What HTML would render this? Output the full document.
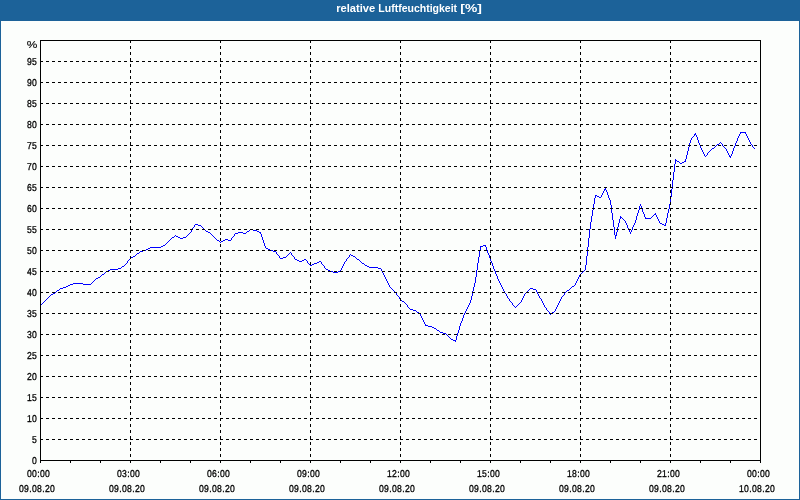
<!DOCTYPE html>
<html lang="de"><head><meta charset="utf-8">
<title>relative Luftfeuchtigkeit [%]</title>
<style>
html,body{margin:0;padding:0;background:#1c6299;overflow:hidden}
svg{display:block}
.ax{font-family:"Liberation Sans",Arial,sans-serif;font-size:10px;fill:#000;text-anchor:middle;text-rendering:geometricPrecision;stroke:#000;stroke-width:0.3px}
.ti{font-family:"Liberation Sans",Arial,sans-serif;font-size:10.5px;font-weight:bold;fill:#fff}
.g{stroke:#000;stroke-width:1;stroke-dasharray:3 3;fill:none}
.b{stroke:#000;stroke-width:1;fill:none}
</style></head><body>
<svg width="800" height="500" viewBox="0 0 800 500">
<rect x="0" y="0" width="800" height="500" fill="#1c6299"/>
<rect x="1" y="21" width="798" height="478" fill="#fcfefc"/>
<text class="ti" x="336.2" y="12" textLength="39" lengthAdjust="spacingAndGlyphs">relative</text>
<text class="ti" x="378.3" y="12" textLength="78.8" lengthAdjust="spacingAndGlyphs">Luftfeuchtigkeit</text>
<text class="ti" x="460.3" y="12" textLength="21.6" lengthAdjust="spacingAndGlyphs">[%]</text>
<g shape-rendering="crispEdges">
<path fill="#00f" d="M40 305h1v1h-1zM41 304h1v1h-1zM42 303h1v1h-1zM43 302h1v1h-1zM44 301h1v1h-1zM45 300h1v1h-1zM46 299h1v1h-1zM47 298h1v1h-1zM48 297h1v1h-1zM49 296h1v1h-1zM50 295h1v1h-1zM51 294h2v1h-2zM53 293h2v1h-2zM55 292h1v1h-1zM56 291h1v1h-1zM57 290h2v1h-2zM59 289h1v1h-1zM60 288h3v1h-3zM63 287h3v1h-3zM66 286h2v1h-2zM68 285h2v1h-2zM70 284h3v1h-3zM73 283h10v1h-10zM83 284h8v1h-8zM91 283h1v1h-1zM92 282h1v1h-1zM93 281h1v1h-1zM94 280h1v1h-1zM95 279h1v1h-1zM96 278h2v1h-2zM98 277h2v1h-2zM100 276h1v1h-1zM101 275h1v1h-1zM102 274h2v1h-2zM104 273h1v1h-1zM105 272h1v1h-1zM106 271h2v1h-2zM108 270h2v1h-2zM110 269h8v1h-8zM118 268h3v1h-3zM121 267h1v1h-1zM122 266h2v1h-2zM124 265h1v1h-1zM125 264h1v1h-1zM126 263h1v1h-1zM127 261h1v2h-1zM128 260h1v1h-1zM129 259h1v1h-1zM130 258h1v1h-1zM131 257h2v1h-2zM133 256h2v1h-2zM135 255h1v1h-1zM136 254h1v1h-1zM137 253h2v1h-2zM139 252h1v1h-1zM140 251h3v1h-3zM143 250h3v1h-3zM146 249h2v1h-2zM148 248h2v1h-2zM150 247h11v1h-11zM161 246h2v1h-2zM163 245h2v1h-2zM165 244h1v1h-1zM166 243h1v1h-1zM167 242h1v1h-1zM168 241h1v1h-1zM169 240h1v1h-1zM170 239h1v1h-1zM171 238h1v1h-1zM172 237h2v1h-2zM174 236h1v1h-1zM175 235h1v1h-1zM176 236h2v1h-2zM178 237h2v1h-2zM180 238h3v1h-3zM183 237h3v1h-3zM186 236h1v1h-1zM187 235h1v1h-1zM188 234h1v1h-1zM189 233h1v1h-1zM190 232h1v1h-1zM191 230h1v2h-1zM192 228h1v2h-1zM193 227h1v1h-1zM194 225h1v2h-1zM195 224h3v1h-3zM198 225h3v1h-3zM201 226h1v1h-1zM202 227h1v1h-1zM203 228h1v1h-1zM204 229h1v1h-1zM205 230h1v1h-1zM206 231h2v1h-2zM208 232h2v1h-2zM210 233h1v1h-1zM211 234h1v1h-1zM212 235h1v1h-1zM213 236h1v1h-1zM214 237h1v1h-1zM215 238h1v1h-1zM216 239h1v1h-1zM217 240h2v1h-2zM219 241h1v1h-1zM220 242h1v1h-1zM221 241h2v1h-2zM223 240h2v1h-2zM225 239h3v1h-3zM228 240h3v1h-3zM231 238h1v2h-1zM232 237h1v1h-1zM233 236h1v1h-1zM234 234h1v2h-1zM235 233h3v1h-3zM238 232h5v1h-5zM243 233h3v1h-3zM246 232h1v1h-1zM247 231h2v1h-2zM249 230h1v1h-1zM250 229h3v1h-3zM253 230h4v1h-4zM257 231h2v1h-2zM259 232h1v1h-1zM260 232h1v2h-1zM261 234h1v3h-1zM262 237h1v3h-1zM263 240h1v3h-1zM264 243h1v3h-1zM265 246h1v2h-1zM266 248h2v1h-2zM268 249h2v1h-2zM270 250h3v1h-3zM273 251h3v1h-3zM276 252h1v2h-1zM277 254h1v1h-1zM278 255h1v1h-1zM279 256h1v2h-1zM280 258h3v1h-3zM283 257h3v1h-3zM286 256h1v1h-1zM287 255h1v1h-1zM288 254h1v1h-1zM289 253h1v1h-1zM290 252h1v1h-1zM291 253h1v2h-1zM292 255h1v1h-1zM293 256h1v1h-1zM294 257h1v2h-1zM295 259h2v1h-2zM297 260h2v1h-2zM299 261h3v1h-3zM302 260h2v1h-2zM304 259h2v1h-2zM306 260h1v1h-1zM307 261h1v2h-1zM308 263h1v1h-1zM309 264h1v1h-1zM310 265h2v1h-2zM312 264h2v1h-2zM314 263h3v1h-3zM317 262h2v1h-2zM319 261h2v1h-2zM321 262h1v2h-1zM322 264h1v1h-1zM323 265h1v1h-1zM324 266h1v2h-1zM325 268h1v1h-1zM326 269h2v1h-2zM328 270h2v1h-2zM330 271h3v1h-3zM333 272h5v1h-5zM338 271h2v1h-2zM340 270h1v2h-1zM341 268h1v2h-1zM342 266h1v2h-1zM343 264h1v2h-1zM344 262h1v2h-1zM345 261h1v1h-1zM346 259h1v2h-1zM347 258h1v1h-1zM348 257h1v1h-1zM349 255h1v2h-1zM350 254h1v1h-1zM351 255h2v1h-2zM353 256h2v1h-2zM355 257h1v1h-1zM356 258h1v1h-1zM357 259h2v1h-2zM359 260h1v1h-1zM360 261h1v1h-1zM361 262h1v1h-1zM362 263h2v1h-2zM364 264h1v1h-1zM365 265h2v1h-2zM367 266h2v1h-2zM369 267h9v1h-9zM378 268h3v1h-3zM381 269h1v2h-1zM382 271h1v2h-1zM383 273h1v2h-1zM384 275h1v2h-1zM385 277h1v2h-1zM386 279h1v2h-1zM387 281h1v2h-1zM388 283h1v2h-1zM389 285h1v2h-1zM390 287h1v1h-1zM391 288h1v1h-1zM392 289h1v1h-1zM393 290h1v1h-1zM394 291h1v1h-1zM395 292h1v1h-1zM396 293h1v2h-1zM397 295h1v1h-1zM398 296h1v1h-1zM399 297h1v2h-1zM400 299h1v1h-1zM401 300h1v1h-1zM402 301h2v1h-2zM404 302h1v1h-1zM405 303h1v1h-1zM406 304h1v1h-1zM407 305h1v2h-1zM408 307h1v1h-1zM409 308h1v1h-1zM410 309h3v1h-3zM413 310h3v1h-3zM416 311h1v1h-1zM417 312h2v1h-2zM419 313h1v1h-1zM420 314h1v2h-1zM421 316h1v2h-1zM422 318h1v2h-1zM423 320h1v2h-1zM424 322h1v2h-1zM425 324h1v2h-1zM426 325h2v1h-2zM428 326h4v1h-4zM432 327h2v1h-2zM434 328h2v1h-2zM436 329h1v1h-1zM437 330h2v1h-2zM439 331h1v1h-1zM440 332h3v1h-3zM443 333h3v1h-3zM446 334h1v1h-1zM447 335h1v1h-1zM448 336h1v1h-1zM449 337h1v1h-1zM450 338h1v1h-1zM451 339h2v1h-2zM453 340h2v1h-2zM455 340h1v2h-1zM456 336h1v4h-1zM457 333h1v3h-1zM458 330h1v3h-1zM459 326h1v4h-1zM460 323h1v3h-1zM461 321h1v2h-1zM462 318h1v3h-1zM463 315h1v3h-1zM464 313h1v2h-1zM465 311h1v2h-1zM466 309h1v2h-1zM467 307h1v2h-1zM468 305h1v2h-1zM469 303h1v2h-1zM470 300h1v3h-1zM471 296h1v4h-1zM472 291h1v5h-1zM473 287h1v4h-1zM474 283h1v4h-1zM475 277h1v6h-1zM476 270h1v7h-1zM477 263h1v7h-1zM478 257h1v6h-1zM479 250h1v7h-1zM480 246h1v4h-1zM481 246h2v1h-2zM483 245h2v1h-2zM485 245h1v2h-1zM486 247h1v3h-1zM487 250h1v3h-1zM488 253h1v2h-1zM489 255h1v3h-1zM490 258h1v3h-1zM491 261h1v2h-1zM492 263h1v3h-1zM493 266h1v3h-1zM494 269h1v2h-1zM495 271h1v3h-1zM496 274h1v2h-1zM497 276h1v3h-1zM498 279h1v2h-1zM499 281h1v2h-1zM500 283h1v2h-1zM501 285h1v2h-1zM502 287h1v2h-1zM503 289h1v2h-1zM504 291h1v2h-1zM505 293h1v1h-1zM506 294h1v2h-1zM507 296h1v2h-1zM508 298h1v1h-1zM509 299h1v2h-1zM510 301h1v1h-1zM511 302h1v1h-1zM512 303h1v2h-1zM513 305h1v1h-1zM514 306h1v1h-1zM515 307h1v1h-1zM516 306h1v1h-1zM517 305h1v1h-1zM518 304h1v1h-1zM519 303h1v1h-1zM520 302h1v1h-1zM521 300h1v2h-1zM522 298h1v2h-1zM523 296h1v2h-1zM524 294h1v2h-1zM525 293h1v1h-1zM526 292h1v1h-1zM527 291h1v1h-1zM528 290h1v1h-1zM529 289h1v1h-1zM530 288h3v1h-3zM533 289h3v1h-3zM536 290h1v2h-1zM537 292h1v2h-1zM538 294h1v2h-1zM539 296h1v2h-1zM540 298h1v1h-1zM541 299h1v2h-1zM542 301h1v2h-1zM543 303h1v2h-1zM544 305h1v2h-1zM545 307h1v1h-1zM546 308h1v2h-1zM547 310h1v1h-1zM548 311h1v1h-1zM549 312h1v2h-1zM550 314h1v1h-1zM551 313h1v1h-1zM552 312h2v1h-2zM554 311h1v1h-1zM555 309h1v2h-1zM556 307h1v2h-1zM557 305h1v2h-1zM558 303h1v2h-1zM559 301h1v2h-1zM560 299h1v2h-1zM561 297h1v2h-1zM562 296h1v1h-1zM563 295h1v1h-1zM564 293h1v2h-1zM565 292h1v1h-1zM566 291h1v1h-1zM567 290h2v1h-2zM569 289h1v1h-1zM570 288h1v1h-1zM571 287h1v1h-1zM572 286h2v1h-2zM574 285h1v1h-1zM575 283h1v2h-1zM576 281h1v2h-1zM577 279h1v2h-1zM578 277h1v2h-1zM579 275h1v2h-1zM580 274h1v1h-1zM581 273h1v1h-1zM582 272h1v1h-1zM583 271h1v1h-1zM584 270h1v1h-1zM585 265h1v5h-1zM586 256h1v9h-1zM587 247h1v9h-1zM588 238h1v9h-1zM589 229h1v9h-1zM590 222h1v7h-1zM591 216h1v6h-1zM592 210h1v6h-1zM593 204h1v6h-1zM594 198h1v6h-1zM595 195h1v3h-1zM596 195h1v1h-1zM597 196h2v1h-2zM599 197h2v1h-2zM601 195h1v2h-1zM602 193h1v2h-1zM603 191h1v2h-1zM604 189h1v2h-1zM605 188h1v2h-1zM606 190h1v2h-1zM607 192h1v3h-1zM608 195h1v3h-1zM609 198h1v2h-1zM610 200h1v5h-1zM611 205h1v8h-1zM612 213h1v7h-1zM613 220h1v7h-1zM614 227h1v8h-1zM615 235h1v4h-1zM616 232h1v4h-1zM617 227h1v5h-1zM618 223h1v4h-1zM619 219h1v4h-1zM620 216h1v3h-1zM621 217h1v1h-1zM622 218h1v1h-1zM623 219h1v1h-1zM624 220h1v1h-1zM625 221h1v2h-1zM626 223h1v2h-1zM627 225h1v3h-1zM628 228h1v2h-1zM629 230h1v2h-1zM630 232h1v2h-1zM631 230h1v2h-1zM632 227h1v3h-1zM633 225h1v2h-1zM634 223h1v2h-1zM635 220h1v3h-1zM636 216h1v4h-1zM637 213h1v3h-1zM638 210h1v3h-1zM639 206h1v4h-1zM640 204h1v2h-1zM641 206h1v3h-1zM642 209h1v3h-1zM643 212h1v2h-1zM644 214h1v3h-1zM645 217h1v2h-1zM646 218h5v1h-5zM651 217h1v1h-1zM652 216h1v1h-1zM653 215h1v1h-1zM654 214h1v1h-1zM655 213h1v2h-1zM656 215h1v2h-1zM657 217h1v2h-1zM658 219h1v2h-1zM659 221h1v2h-1zM660 223h2v1h-2zM662 224h2v1h-2zM664 225h1v1h-1zM665 223h1v3h-1zM666 218h1v5h-1zM667 213h1v5h-1zM668 209h1v4h-1zM669 204h1v5h-1zM670 197h1v7h-1zM671 189h1v8h-1zM672 180h1v9h-1zM673 172h1v8h-1zM674 164h1v8h-1zM675 159h1v5h-1zM676 160h1v1h-1zM677 161h2v1h-2zM679 162h1v1h-1zM680 163h2v1h-2zM682 162h2v1h-2zM684 161h1v1h-1zM685 159h1v3h-1zM686 155h1v4h-1zM687 151h1v4h-1zM688 147h1v4h-1zM689 143h1v4h-1zM690 140h1v3h-1zM691 138h1v2h-1zM692 137h1v1h-1zM693 136h1v1h-1zM694 134h1v2h-1zM695 133h1v2h-1zM696 135h1v2h-1zM697 137h1v3h-1zM698 140h1v3h-1zM699 143h1v2h-1zM700 145h1v3h-1zM701 148h1v2h-1zM702 150h1v2h-1zM703 152h1v2h-1zM704 154h1v2h-1zM705 156h1v1h-1zM706 155h1v1h-1zM707 153h1v2h-1zM708 152h1v1h-1zM709 151h1v1h-1zM710 150h1v1h-1zM711 149h1v1h-1zM712 148h2v1h-2zM714 147h1v1h-1zM715 146h1v1h-1zM716 145h1v1h-1zM717 144h2v1h-2zM719 143h1v1h-1zM720 142h1v1h-1zM721 143h1v1h-1zM722 144h1v2h-1zM723 146h1v1h-1zM724 147h1v1h-1zM725 148h1v1h-1zM726 149h1v2h-1zM727 151h1v2h-1zM728 153h1v2h-1zM729 155h1v2h-1zM730 156h1v2h-1zM731 154h1v2h-1zM732 151h1v3h-1zM733 148h1v3h-1zM734 146h1v2h-1zM735 143h1v3h-1zM736 141h1v2h-1zM737 138h1v3h-1zM738 136h1v2h-1zM739 134h1v2h-1zM740 132h1v2h-1zM741 132h4v1h-4zM745 132h1v2h-1zM746 134h1v2h-1zM747 136h1v2h-1zM748 138h1v2h-1zM749 140h1v2h-1zM750 142h1v2h-1zM751 144h1v1h-1zM752 145h1v2h-1zM753 147h1v1h-1zM754 148h1v1h-1z"/>
<line class="g" x1="40" y1="439.5" x2="760" y2="439.5"/>
<line class="g" x1="40" y1="418.5" x2="760" y2="418.5"/>
<line class="g" x1="40" y1="397.5" x2="760" y2="397.5"/>
<line class="g" x1="40" y1="376.5" x2="760" y2="376.5"/>
<line class="g" x1="40" y1="355.5" x2="760" y2="355.5"/>
<line class="g" x1="40" y1="334.5" x2="760" y2="334.5"/>
<line class="g" x1="40" y1="313.5" x2="760" y2="313.5"/>
<line class="g" x1="40" y1="292.5" x2="760" y2="292.5"/>
<line class="g" x1="40" y1="271.5" x2="760" y2="271.5"/>
<line class="g" x1="40" y1="250.5" x2="760" y2="250.5"/>
<line class="g" x1="40" y1="229.5" x2="760" y2="229.5"/>
<line class="g" x1="40" y1="208.5" x2="760" y2="208.5"/>
<line class="g" x1="40" y1="187.5" x2="760" y2="187.5"/>
<line class="g" x1="40" y1="166.5" x2="760" y2="166.5"/>
<line class="g" x1="40" y1="145.5" x2="760" y2="145.5"/>
<line class="g" x1="40" y1="124.5" x2="760" y2="124.5"/>
<line class="g" x1="40" y1="103.5" x2="760" y2="103.5"/>
<line class="g" x1="40" y1="82.5" x2="760" y2="82.5"/>
<line class="g" x1="40" y1="61.5" x2="760" y2="61.5"/>
<line class="g" x1="130.5" y1="40" x2="130.5" y2="460"/>
<line class="g" x1="220.5" y1="40" x2="220.5" y2="460"/>
<line class="g" x1="310.5" y1="40" x2="310.5" y2="460"/>
<line class="g" x1="400.5" y1="40" x2="400.5" y2="460"/>
<line class="g" x1="490.5" y1="40" x2="490.5" y2="460"/>
<line class="g" x1="580.5" y1="40" x2="580.5" y2="460"/>
<line class="g" x1="670.5" y1="40" x2="670.5" y2="460"/>
<rect class="b" x="40.5" y="40.5" width="720" height="420"/>
<rect x="40" y="461" width="1" height="2" fill="#000"/>
<rect x="70" y="461" width="1" height="2" fill="#000"/>
<rect x="100" y="461" width="1" height="2" fill="#000"/>
<rect x="130" y="461" width="1" height="2" fill="#000"/>
<rect x="160" y="461" width="1" height="2" fill="#000"/>
<rect x="190" y="461" width="1" height="2" fill="#000"/>
<rect x="220" y="461" width="1" height="2" fill="#000"/>
<rect x="250" y="461" width="1" height="2" fill="#000"/>
<rect x="280" y="461" width="1" height="2" fill="#000"/>
<rect x="310" y="461" width="1" height="2" fill="#000"/>
<rect x="340" y="461" width="1" height="2" fill="#000"/>
<rect x="370" y="461" width="1" height="2" fill="#000"/>
<rect x="400" y="461" width="1" height="2" fill="#000"/>
<rect x="430" y="461" width="1" height="2" fill="#000"/>
<rect x="460" y="461" width="1" height="2" fill="#000"/>
<rect x="490" y="461" width="1" height="2" fill="#000"/>
<rect x="520" y="461" width="1" height="2" fill="#000"/>
<rect x="550" y="461" width="1" height="2" fill="#000"/>
<rect x="580" y="461" width="1" height="2" fill="#000"/>
<rect x="610" y="461" width="1" height="2" fill="#000"/>
<rect x="640" y="461" width="1" height="2" fill="#000"/>
<rect x="670" y="461" width="1" height="2" fill="#000"/>
<rect x="700" y="461" width="1" height="2" fill="#000"/>
<rect x="730" y="461" width="1" height="2" fill="#000"/>
<rect x="760" y="461" width="1" height="2" fill="#000"/>
</g>
<g class="ax" transform="scale(0.86,1)">
<text x="34.30 40.12" y="65">95</text>
<text x="34.30 40.12" y="86">90</text>
<text x="34.30 40.12" y="107">85</text>
<text x="34.30 40.12" y="128">80</text>
<text x="34.30 40.12" y="149">75</text>
<text x="34.30 40.12" y="170">70</text>
<text x="34.30 40.12" y="191">65</text>
<text x="34.30 40.12" y="212">60</text>
<text x="34.30 40.12" y="233">55</text>
<text x="34.30 40.12" y="254">50</text>
<text x="34.30 40.12" y="275">45</text>
<text x="34.30 40.12" y="296">40</text>
<text x="34.30 40.12" y="317">35</text>
<text x="34.30 40.12" y="338">30</text>
<text x="34.30 40.12" y="359">25</text>
<text x="34.30 40.12" y="380">20</text>
<text x="34.30 40.12" y="401">15</text>
<text x="34.30 40.12" y="422">10</text>
<text x="40.12" y="443">5</text>
<text x="40.12" y="464">0</text>
<text x="34.30 40.12 44.77 49.42 55.23" y="477">00:00</text>
<text x="25.00 30.81 35.47 40.12 45.93 50.58 55.23 61.05" y="492">09.08.20</text>
<text x="138.95 144.77 149.42 154.07 159.88" y="477">03:00</text>
<text x="129.65 135.47 140.12 144.77 150.58 155.23 159.88 165.70" y="492">09.08.20</text>
<text x="243.60 249.42 254.07 258.72 264.53" y="477">06:00</text>
<text x="234.30 240.12 244.77 249.42 255.23 259.88 264.53 270.35" y="492">09.08.20</text>
<text x="348.26 354.07 358.72 363.37 369.19" y="477">09:00</text>
<text x="338.95 344.77 349.42 354.07 359.88 364.53 369.19 375.00" y="492">09.08.20</text>
<text x="452.91 458.72 463.37 468.02 473.84" y="477">12:00</text>
<text x="443.60 449.42 454.07 458.72 464.53 469.19 473.84 479.65" y="492">09.08.20</text>
<text x="557.56 563.37 568.02 572.67 578.49" y="477">15:00</text>
<text x="548.26 554.07 558.72 563.37 569.19 573.84 578.49 584.30" y="492">09.08.20</text>
<text x="662.21 668.02 672.67 677.33 683.14" y="477">18:00</text>
<text x="652.91 658.72 663.37 668.02 673.84 678.49 683.14 688.95" y="492">09.08.20</text>
<text x="766.86 772.67 777.33 781.98 787.79" y="477">21:00</text>
<text x="757.56 763.37 768.02 772.67 778.49 783.14 787.79 793.60" y="492">09.08.20</text>
<text x="871.51 877.33 881.98 886.63 892.44" y="477">00:00</text>
<text x="862.21 868.02 872.67 877.33 883.14 887.79 892.44 898.26" y="492">10.08.20</text>
</g>
<text class="ax" style="text-anchor:start;stroke-width:0.1px" x="26.8" y="48" textLength="10.6" lengthAdjust="spacingAndGlyphs">%</text>
</svg>
</body></html>
